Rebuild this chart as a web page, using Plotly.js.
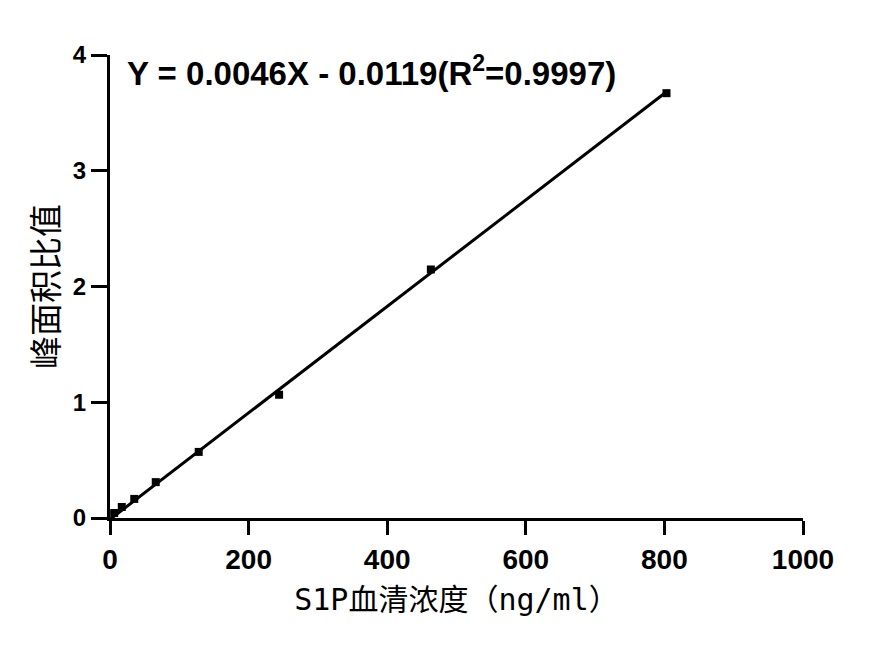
<!DOCTYPE html>
<html>
<head>
<meta charset="utf-8">
<script src="https://cdn.plot.ly/plotly-3.0.1.min.js"></script>
<style>
  html, body { margin: 0; padding: 0; background: #ffffff; }
  #chart { width: 896px; height: 646px; }
</style>
</head>
<body>
<div id="chart"></div>
<script>
// Measured calibration points (S1P serum concentration, ng/ml) and peak-area ratios
const concentration = [6, 17, 35, 66, 128, 244, 463, 803];
const peakRatio = [0.043, 0.095, 0.165, 0.31, 0.571, 1.065, 2.147, 3.67];

// Fitted regression line endpoints
const fitX = [0, 805];
const fitY = [-0.012, 3.691];

const xTicks = [0, 200, 400, 600, 800, 1000];
const yTicks = [0, 1, 2, 3, 4];

const equationText = 'Y = 0.0046X - 0.0119(R<sup>2</sup>=0.9997)';
const xTitle = 'S1P血清浓度（ng/ml）';
const yTitle = '峰面积比值';

const traces = [
  {
    x: fitX, y: fitY, type: 'scatter', mode: 'lines',
    line: { color: '#000000', width: 3 },
    hoverinfo: 'skip', showlegend: false
  },
  {
    x: concentration, y: peakRatio, type: 'scatter', mode: 'markers',
    marker: { symbol: 'square', size: 8, color: '#000000' },
    showlegend: false
  }
];

const tickFamily = 'Liberation Sans, Arial, sans-serif';

const layout = {
  width: 896, height: 646,
  paper_bgcolor: '#ffffff', plot_bgcolor: '#ffffff',
  margin: { l: 110, r: 93, t: 55, b: 128 },
  showlegend: false,
  xaxis: {
    range: [0, 1000], tickvals: xTicks, ticktext: xTicks.map(String),
    showgrid: false, zeroline: false,
    showline: true, linecolor: '#000000', linewidth: 3,
    ticks: 'outside', ticklen: 14, tickwidth: 3, tickcolor: '#000000',
    tickfont: { family: tickFamily, size: 28, color: '#000000', weight: 'bold' },
    title: {
      text: xTitle,
      font: { family: 'DejaVu Sans Mono, Noto Sans CJK SC, sans-serif', size: 30, color: '#000000' },
      standoff: 16
    },
    automargin: false
  },
  yaxis: {
    range: [0, 4], tickvals: yTicks, ticktext: yTicks.map(String),
    showgrid: false, zeroline: false,
    showline: true, linecolor: '#000000', linewidth: 3,
    ticks: 'outside', ticklen: 16, tickwidth: 3, tickcolor: '#000000',
    tickfont: { family: tickFamily, size: 24, color: '#000000', weight: 'bold' },
    title: {
      text: yTitle,
      font: { family: 'Noto Sans CJK SC, sans-serif', size: 33, color: '#000000' },
      standoff: 5
    },
    automargin: false
  },
  annotations: [
    {
      xref: 'paper', yref: 'paper', x: 0.022, y: 0.965,
      xanchor: 'left', yanchor: 'middle',
      text: equationText, showarrow: false,
      font: { family: tickFamily, size: 33, color: '#000000', weight: 'bold' }
    }
  ]
};

Plotly.newPlot('chart', traces, layout, { displayModeBar: false, staticPlot: true });
</script>
</body>
</html>
